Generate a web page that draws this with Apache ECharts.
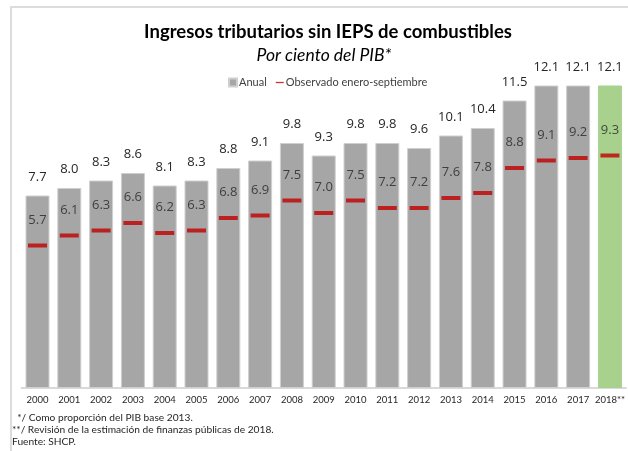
<!DOCTYPE html>
<html>
<head>
<meta charset="utf-8">
<script src="https://cdn.jsdelivr.net/npm/echarts@6/dist/echarts.min.js"></script>
<style>
html,body{margin:0;padding:0;background:#fff;}
#c{width:628px;height:451px;}
</style>
</head>
<body>
<div id="c"></div>
<script>
const years = ['2000','2001','2002','2003','2004','2005','2006','2007','2008','2009','2010','2011','2012','2013','2014','2015','2016','2017','2018**'];
const annual = [7.7, 8.0, 8.3, 8.6, 8.1, 8.3, 8.8, 9.1, 9.8, 9.3, 9.8, 9.8, 9.6, 10.1, 10.4, 11.5, 12.1, 12.1, 12.1];
const observed = [5.7, 6.1, 6.3, 6.6, 6.2, 6.3, 6.8, 6.9, 7.5, 7.0, 7.5, 7.2, 7.2, 7.6, 7.8, 8.8, 9.1, 9.2, 9.3];
const estimateIndex = 18;
const titleText = 'Ingresos tributarios sin IEPS de combustibles';
const subtitleText = 'Por ciento del PIB*';
const footnotes = ['  */ Como proporción del PIB base 2013.', '**/ Revisión de la estimación de finanzas públicas de 2018.', 'Fuente: SHCP.'];

const chart = echarts.init(document.getElementById('c'), null, {renderer: 'canvas'});
const barData = annual.map((v, i) => i === estimateIndex
  ? {value: v, itemStyle: {color: '#a9d18e', borderColor: '#a9d18e'}}
  : v);

const option = {
  animation: false,
  backgroundColor: '#fff',
  title: [
    {text: titleText, left: 323, top: 18, textAlign: 'center',
     textStyle: {fontFamily: 'Lato', fontWeight: 'bold', fontSize: 18.5, color: '#000'}},
    {text: subtitleText, left: 319, top: 41, textAlign: 'center',
     textStyle: {fontFamily: 'Lato', fontStyle: 'italic', fontWeight: 'normal', fontSize: 17.5, color: '#000'}}
  ],
  legend: {
    left: 223, top: 72,
    itemWidth: 8, itemHeight: 8, itemGap: 9,
    textStyle: {fontFamily: 'Lato', fontSize: 11, color: '#404040', padding: [0,0,0,-3]},
    data: [
      {name: 'Anual', icon: 'rect'},
      {name: 'Observado enero-septiembre', icon: 'path://M0,0H10V1.6H0Z'}
    ]
  },
  grid: {left: 21.6, right: 2, top: 38, bottom: 63, containLabel: false},
  xAxis: {
    type: 'category', data: years,
    axisLine: {lineStyle: {color: '#d9d9d9', width: 2}},
    axisTick: {show: false},
    axisLabel: {fontFamily: 'Lato', fontSize: 9.5, color: '#262626', margin: 7, interval: 0}
  },
  yAxis: {type: 'value', min: 0, max: 14, show: false, splitLine: {show: false}},
  graphic: [
    {type: 'rect', shape: {x: 11, y: 7, width: 700, height: 500},
     style: {fill: 'none', stroke: '#dcdcdc', lineWidth: 2}, silent: true, z: 0},
    {type: 'text', left: 12, top: 413, style: {text: footnotes[0], font: '10.2px Lato', fill: '#262626'}},
    {type: 'text', left: 12, top: 425, style: {text: footnotes[1], font: '10.2px Lato', fill: '#262626'}},
    {type: 'text', left: 12, top: 437, style: {text: footnotes[2], font: '10.2px Lato', fill: '#262626'}}
  ],
  series: [
    {
      name: 'Anual', type: 'bar', data: barData, barWidth: 24,
      itemStyle: {color: '#a6a6a6', borderColor: '#cfcfcf', borderWidth: 1},
      label: {show: true, position: 'top', distance: 12, fontFamily: 'Open Sans', fontSize: 13, color: '#262626',
              formatter: p => p.value.toFixed(1)}
    },
    {
      name: 'Observado enero-septiembre', type: 'scatter', data: observed,
      symbol: 'rect', symbolSize: [19, 4],
      itemStyle: {color: '#c00000'},
      label: {show: true, position: 'top', distance: 17, fontFamily: 'Open Sans', fontSize: 13, color: '#262626',
              formatter: p => p.value.toFixed(1)},
      z: 3
    }
  ]
};
chart.setOption(option);
</script>
</body>
</html>
